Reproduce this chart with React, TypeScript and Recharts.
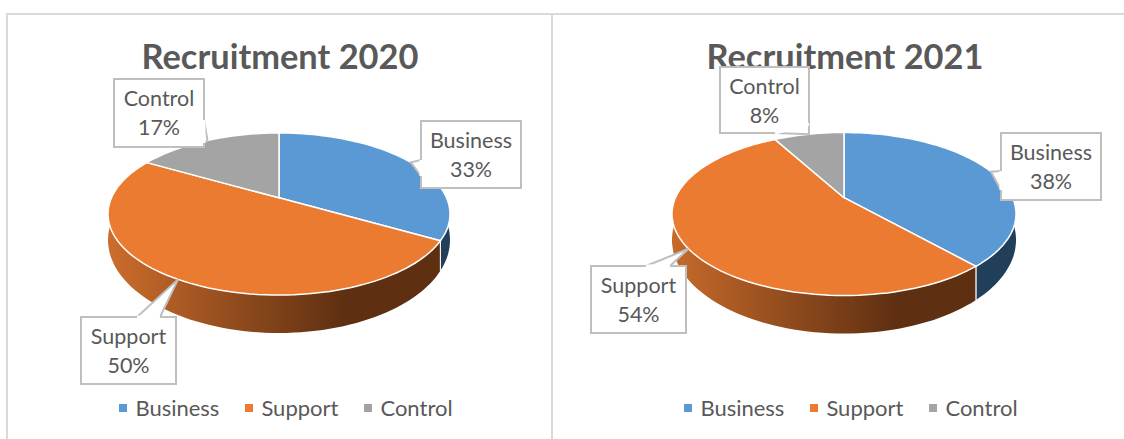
import { Cell, Legend, Pie, PieChart } from "recharts";

const categories = ["Business", "Support", "Control"];
const values2020 = [33.3, 50, 16.7];
const values2021 = [38.4, 53.6, 8];

const topColors = ["#5a99d4", "#ea7b30", "#a4a4a4"];
const wallColors = ["#223f59", "url(#wall)", "#636363"];

const TEXT = "#595959";
const FONT = "Lato, 'Open Sans', sans-serif";

// how far the tilt pushes the pie's centre towards the back edge
const SKEW = 0.2;
const FLATTEN = 81 / 171;
const DEPTH = 26;
const WALL_STRETCH = 93 / 81;

// a point of the flat disc (u across, v up, radius 1) as seen on the tilted ellipse
function project(u: number, v: number) {
  const k = 1 + SKEW * v;
  return { x: (u * Math.sqrt(1 - SKEW * SKEW)) / k, y: (v + SKEW) / k };
}

function rim(p: any, angle: number, wall = false) {
  const rad = ((90 - angle) * Math.PI) / 180;
  const pt = project(Math.sin(rad), Math.cos(rad));
  const ry = p.outerRadius * FLATTEN * (wall ? WALL_STRETCH : 1);
  return {
    x: p.cx + p.outerRadius * pt.x,
    y: p.cy + (wall ? DEPTH : 0) - ry * pt.y,
    front: pt.y < 0,
  };
}

function arc(p: any, wall = false) {
  const steps = Math.ceil(Math.abs(p.startAngle - p.endAngle) / 2);
  const out = [];
  for (let i = 0; i <= steps; i++) {
    out.push(rim(p, p.startAngle + ((p.endAngle - p.startAngle) * i) / steps, wall));
  }
  return out;
}

const toPath = (pts: { x: number; y: number }[]) =>
  pts.map((q, i) => `${i ? "L" : "M"}${q.x.toFixed(1)} ${q.y.toFixed(1)}`).join(" ") + " Z";

function TopSlice(props: any) {
  const apex = { x: props.cx, y: props.cy - props.outerRadius * FLATTEN * SKEW };
  return <path d={toPath([apex, ...arc(props)])} fill={props.fill} stroke="#fff" strokeWidth={1.5} />;
}

function WallSlice(props: any) {
  const top = arc(props);
  const bottom = arc(props, true);
  const ends = [0, top.length - 1].filter((i) => top[i].front);
  return (
    <g>
      <path d={toPath([...top, ...[...bottom].reverse()])} fill={props.fill} />
      {ends.map((i) => (
        <line key={i} x1={top[i].x} y1={top[i].y} x2={bottom[i].x} y2={bottom[i].y} stroke="#fff" strokeWidth={1} />
      ))}
    </g>
  );
}

type Box = { x: number; y: number; w: number; h: number; a: number[]; b: number[] };

// callout boxes, a and b are where the pointer leaves the box
const boxes2020: Box[] = [
  { x: 421, y: 121, w: 100, h: 67, a: [421, 160], b: [421, 176] },
  { x: 81, y: 317, w: 95, h: 67, a: [137, 317], b: [160, 317] },
  { x: 114, y: 79, w: 90, h: 68, a: [204, 120], b: [204, 143] },
];
const boxes2021: Box[] = [
  { x: 449, y: 133, w: 100, h: 67, a: [449, 171], b: [449, 190] },
  { x: 39, y: 266, w: 95, h: 67, a: [94, 266], b: [118, 266] },
  { x: 168, y: 67, w: 89, h: 66, a: [223, 133], b: [257, 124] },
];

function callout(boxes: Box[]) {
  return (props: any) => {
    const box = boxes[props.index];
    const tip = rim(props, props.midAngle);
    const c = box.x + box.w / 2;
    return (
      <g>
        <rect x={box.x} y={box.y} width={box.w} height={box.h} fill="#fff" stroke="#bfbfbf" strokeWidth={2} />
        <path
          d={`M${box.a[0]} ${box.a[1]} L${tip.x} ${tip.y} L${box.b[0]} ${box.b[1]}`}
          fill="#fff"
          stroke="#bfbfbf"
          strokeWidth={2}
        />
        <path d={`M${box.a[0]} ${box.a[1]} L${box.b[0]} ${box.b[1]}`} stroke="#fff" strokeWidth={3} />
        <text x={c} y={box.y + 27} textAnchor="middle" fontFamily={FONT} fontSize={21.5} fill={TEXT}>
          {props.name}
        </text>
        <text x={c} y={box.y + 56} textAnchor="middle" fontFamily={FONT} fontSize={21.5} fill={TEXT}>
          {`${Math.round(props.percent * 100)}%`}
        </text>
      </g>
    );
  };
}

function LegendRow({ payload }: any) {
  const items = (payload || []).filter((item: any) => topColors.includes(item.color));
  return (
    <div style={{ display: "flex", justifyContent: "center", gap: 26, fontFamily: FONT, fontSize: 22, color: TEXT }}>
      {items.map((item: any) => (
        <span key={item.value} style={{ display: "flex", alignItems: "center", gap: 8 }}>
          <span style={{ width: 8, height: 8, background: item.color, display: "inline-block" }} />
          {item.value}
        </span>
      ))}
    </div>
  );
}

function RecruitmentPie({ title, values, boxes, left, width, cx, radius, shadeTo }: any) {
  const rows = categories.map((name, i) => ({ name, value: values[i] }));
  return (
    <div style={{ position: "absolute", left, top: 0 }}>
      <PieChart width={width} height={439} margin={{ top: 0, right: 0, bottom: 0, left: 0 }}>
        <defs>
          <linearGradient id="wall" gradientUnits="userSpaceOnUse" x1={cx - radius} y1="0" x2={shadeTo} y2="0">
            <stop offset="0%" stopColor="#cc6d2c" />
            <stop offset="100%" stopColor="#5e2f11" />
          </linearGradient>
        </defs>
        <text x={cx + 1} y={69} textAnchor="middle" fontFamily={FONT} fontWeight={700} fontSize={34.4} fill={TEXT}>
          {title}
        </text>
        <Pie
          data={rows}
          dataKey="value"
          nameKey="name"
          cx={cx}
          cy={214}
          outerRadius={radius}
          startAngle={90}
          endAngle={-270}
          legendType="none"
          label={false}
          labelLine={false}
          shape={WallSlice}
          inactiveShape={WallSlice}
          isAnimationActive={false}
        >
          {wallColors.map((c) => (
            <Cell key={c} fill={c} />
          ))}
        </Pie>
        <Pie
          data={rows}
          dataKey="value"
          nameKey="name"
          cx={cx}
          cy={214}
          outerRadius={radius}
          startAngle={90}
          endAngle={-270}
          label={callout(boxes)}
          labelLine={false}
          shape={TopSlice}
          inactiveShape={TopSlice}
          isAnimationActive={false}
        >
          {topColors.map((c) => (
            <Cell key={c} fill={c} />
          ))}
        </Pie>
        <Legend
          content={<LegendRow />}
          itemSorter={null}
          wrapperStyle={{ position: "absolute", left: cx - 193, width: 400, top: 394, bottom: "auto" }}
        />
      </PieChart>
    </div>
  );
}

export default function App() {
  return (
    <div style={{ position: "absolute", left: 0, top: 0, width: 1124, height: 439, overflow: "hidden", background: "#fff" }}>
      <div style={{ position: "absolute", left: 7, top: 13, width: 1117, height: 2, background: "#d9d9d9" }} />
      <div style={{ position: "absolute", left: 6, top: 13, width: 2, height: 426, background: "#d9d9d9" }} />
      <div style={{ position: "absolute", left: 551, top: 13, width: 2, height: 426, background: "#d9d9d9" }} />
      <RecruitmentPie title="Recruitment 2020" values={values2020} boxes={boxes2020} left={0} width={552} cx={279} radius={171} shadeTo={345} />
      <RecruitmentPie title="Recruitment 2021" values={values2021} boxes={boxes2021} left={552} width={572} cx={292} radius={172} shadeTo={354} />
    </div>
  );
}
